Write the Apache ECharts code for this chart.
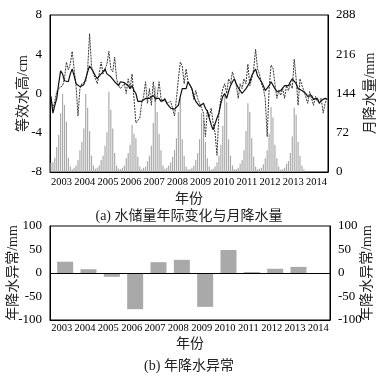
<!DOCTYPE html>
<html>
<head>
<meta charset="utf-8">
<script src="https://cdn.jsdelivr.net/npm/echarts@6/dist/echarts.min.js"></script>
<style>
  html, body { margin: 0; padding: 0; background: #fff; }
  #main { width: 378px; height: 377px; }
</style>
</head>
<body>
<div id="main"></div>
<script>
// 年份
var years = ['2003', '2004', '2005', '2006', '2007', '2008', '2009', '2010', '2011', '2012', '2013', '2014'];

// 等效水高 (cm) 实线，2003-01 ~ 2014-12
var ewhSolid = [
    -0.3, -2.0, -1.2, -0.5, 1.0, 2.3, 2.0, 1.3, 1.4, 1.2, 2.0, 2.5,
    1.8, 1.0, 0.8, 0.7, 0.7, 0.9, 1.5, 2.2, 2.8, 2.5, 2.2, 1.8,
    1.5, 1.8, 2.0, 2.2, 2.5, 2.0, 1.8, 1.7, 1.5, 1.2, 1.0, 0.8,
    1.2, 1.0, 1.1, 1.0, 0.8, 0.5, 0.8, 0.3, 0.0, -0.8, -1.0, -0.8,
    -0.6, -0.5, -0.4, -0.5, -0.3, -0.2, -0.5, -0.3, -0.5, -0.8, -0.7, -0.6,
    -1.0, -1.2, -1.5, -1.4, -1.6, -1.5, -1.2, -0.3, 0.5, 0.6, 0.5, 1.2,
    1.1, 0.5, -0.3, -0.8, -1.0, -1.3, -1.2, -1.0, -1.5, -1.8, -2.5, -3.2,
    -3.7, -3.5, -2.5, -2.0, -1.0, -0.3, 0.0, -0.5, 0.2, 0.8, 1.2, 1.5,
    1.0, 0.6, 0.3, 0.0, 0.2, 0.5, 0.8, 1.2, 1.8, 2.2, 2.5, 1.8,
    1.5, 1.2, 0.8, 0.3, 0.5, 0.8, 1.2, 1.0, 0.5, 0.2, 0.0, 0.3,
    0.5, 0.8, 1.0, 0.8, 1.2, 1.5, 1.3, 1.0, 0.5, 0.6, 0.3, 0.2,
    0.0, -0.3, -0.5, -0.2, -0.6, -0.8, -0.5, -1.0, -0.7, -0.8, -0.5, -0.6
];

// 等效水高 (cm) 虚线
var ewhDash = [
    -0.5, -1.5, -0.8, 0.2, 0.5, 0.6, 0.8, 1.5, 3.2, 2.4, 3.0, 4.3,
    2.5, 0.8, -2.3, 0.5, 1.0, 0.8, 1.2, 2.5, 6.1, 2.8, 2.0, 1.5,
    1.0, 2.0, 3.2, 2.0, 2.5, 3.0, 4.3, 2.5, 2.2, 3.7, 1.5, 0.8,
    0.5, 0.3, 1.0, 0.0, 1.5, 0.5, 2.0, -0.5, -3.0, -3.2, -2.5, -1.0,
    -0.3, 1.2, -1.0, 0.5, -1.2, 1.2, -0.8, -0.3, 1.2, -0.5, -0.8, -0.5,
    -1.0, -1.2, -0.8, -1.5, -2.3, -0.5, 1.5, 3.2, 2.8, 1.0, 2.5, 1.2,
    1.4, 0.5, -0.6, 0.3, -0.5, -1.0, -1.5, -2.0, -4.4, -1.7, -2.4, -1.5,
    -3.0, -4.0, -6.3, -2.0, -0.5, 0.5, 1.0, 0.0, 1.5, 1.0, 2.2, 1.5,
    0.8, -0.5, 1.0, 0.5, 1.5, 1.0, 3.0, 0.8, 1.5, 2.5, 4.5, 2.5,
    2.0, 1.0, 0.5, -0.5, -4.4, 0.5, 2.9, 2.6, 1.0, -0.5, 0.3, -0.2,
    0.5, -0.5, 0.8, 0.3, 1.0, 0.5, 3.5, 1.5, -1.2, 1.5, 0.8, 0.3,
    0.5, -1.0, 0.2, -0.5, -1.2, -0.3, -0.8, -1.0, -0.5, -2.0, -1.0, -0.5
];

// 月降水量 (mm)，2003-01 ~ 2013-12
var monthRain = [
    17, 18, 26, 46, 68, 108, 143, 123, 92, 26, 10, 5,
    8, 12, 22, 40, 55, 80, 143, 118, 75, 30, 12, 6,
    8, 12, 22, 30, 48, 73, 147, 114, 80, 35, 12, 6,
    5, 8, 12, 25, 35, 50, 86, 70, 62, 28, 10, 5,
    8, 10, 20, 30, 48, 90, 157, 110, 70, 40, 12, 6,
    8, 12, 18, 28, 40, 62, 110, 134, 60, 30, 10, 5,
    5, 8, 12, 22, 35, 60, 108, 95, 55, 25, 10, 4,
    6, 10, 18, 30, 50, 85, 141, 128, 60, 30, 12, 5,
    5, 8, 15, 22, 40, 75, 126, 110, 62, 28, 10, 5,
    6, 8, 14, 25, 40, 70, 119, 100, 50, 25, 10, 4,
    5, 8, 15, 20, 35, 65, 118, 105, 55, 30, 12, 5
];

// 年降水异常 (mm)
var rainAnomaly = [24, 8, -8, -77, 23, 28, -72, 49, 2, 9, 13, '-'];

var months = [];
for (var i = 0; i < ewhSolid.length; i++) {
    months.push(years[Math.floor(i / 12)] + '-' + (i % 12 + 1));
}

var numFont = 'Liberation Serif, Noto Sans CJK SC';
var cjkFont = 'Liberation Serif, Noto Sans CJK SC';
var axisLineStyle = { lineStyle: { color: '#000', width: 1 } };
var tickStyle = { inside: true, length: 3, lineStyle: { color: '#000' } };
var labelStyle = { color: '#000', fontFamily: numFont, fontSize: 13 };
var nameStyle = { color: '#222', fontFamily: cjkFont, fontSize: 14 };

// y 轴公共配置
function yAxisOpt(grid, min, max, step, pos, name, gap) {
    return {
        type: 'value', gridIndex: grid, min: min, max: max, interval: step, position: pos,
        axisLine: { show: true, lineStyle: { color: '#000' } }, axisTick: tickStyle,
        axisLabel: labelStyle, splitLine: { show: false },
        name: name, nameLocation: 'middle', nameGap: gap, nameRotate: 90,
        nameMoveOverlap: false, nameTextStyle: nameStyle
    };
}

var chart = echarts.init(document.getElementById('main'));
chart.setOption({
    animation: false,
    title: [
        { text: '(a) 水储量年际变化与月降水量', left: 'center', top: 204,
          textStyle: { fontFamily: cjkFont, fontSize: 14, fontWeight: 'normal', color: '#222' } },
        { text: '(b) 年降水异常', left: 'center', top: 354,
          textStyle: { fontFamily: cjkFont, fontSize: 14, fontWeight: 'normal', color: '#222' } }
    ],
    grid: [
        { left: 50, right: 50, top: 15, height: 157, show: true, borderColor: '#000', borderWidth: 1,
          outerBoundsMode: 'none', containLabel: false },
        { left: 50, right: 48, top: 226, height: 94, show: true, borderColor: '#000', borderWidth: 1,
          outerBoundsMode: 'none', containLabel: false }
    ],
    xAxis: [
        { type: 'category', gridIndex: 0, data: months, show: false, boundaryGap: true },
        { type: 'category', gridIndex: 0, data: years, boundaryGap: true, position: 'bottom',
          axisLine: axisLineStyle, axisTick: tickStyle,
          axisLabel: { color: '#000', fontFamily: numFont, fontSize: 10.5, margin: 5, interval: 0 },
          name: '年份', nameLocation: 'middle', nameGap: 20, nameMoveOverlap: false, nameTextStyle: nameStyle },
        { type: 'category', gridIndex: 1, data: years, boundaryGap: true,
          axisLine: { onZero: false, lineStyle: { color: '#000', width: 1 } }, axisTick: tickStyle,
          axisLabel: { color: '#000', fontFamily: numFont, fontSize: 10.5, margin: 3, interval: 0 },
          name: '年份', nameLocation: 'middle', nameGap: 17, nameMoveOverlap: false, nameTextStyle: nameStyle }
    ],
    yAxis: [
        yAxisOpt(0, -8, 8, 4, 'left', '等效水高/cm', 20),
        yAxisOpt(0, 0, 288, 72, 'right', '月降水量/mm', 35),
        yAxisOpt(1, -100, 100, 50, 'left', '年降水异常/mm', 30),
        yAxisOpt(1, -100, 100, 50, 'right', '年降水异常/mm', 30)
    ],
    series: [
        { type: 'bar', xAxisIndex: 0, yAxisIndex: 1, data: monthRain, barWidth: '60%',
          itemStyle: { color: '#a8a8a8' }, silent: true },
        { type: 'line', xAxisIndex: 0, yAxisIndex: 0, data: ewhDash, symbol: 'none',
          lineStyle: { color: '#333', width: 1, type: [2, 1] } },
        { type: 'line', xAxisIndex: 0, yAxisIndex: 0, data: ewhSolid, symbol: 'none',
          lineStyle: { color: '#111', width: 1.2 } },
        // 占位，让柱子靠右
        { type: 'bar', xAxisIndex: 2, yAxisIndex: 2, data: [], barWidth: 7, barGap: 0 },
        { type: 'bar', xAxisIndex: 2, yAxisIndex: 2, data: rainAnomaly, barWidth: 16, barGap: 0,
          itemStyle: { color: '#a9a9a9' },
          markLine: { silent: true, symbol: 'none', label: { show: false },
                      lineStyle: { color: '#000', width: 1, type: 'solid' }, data: [{ yAxis: 0 }] } }
    ]
});
</script>
</body>
</html>
